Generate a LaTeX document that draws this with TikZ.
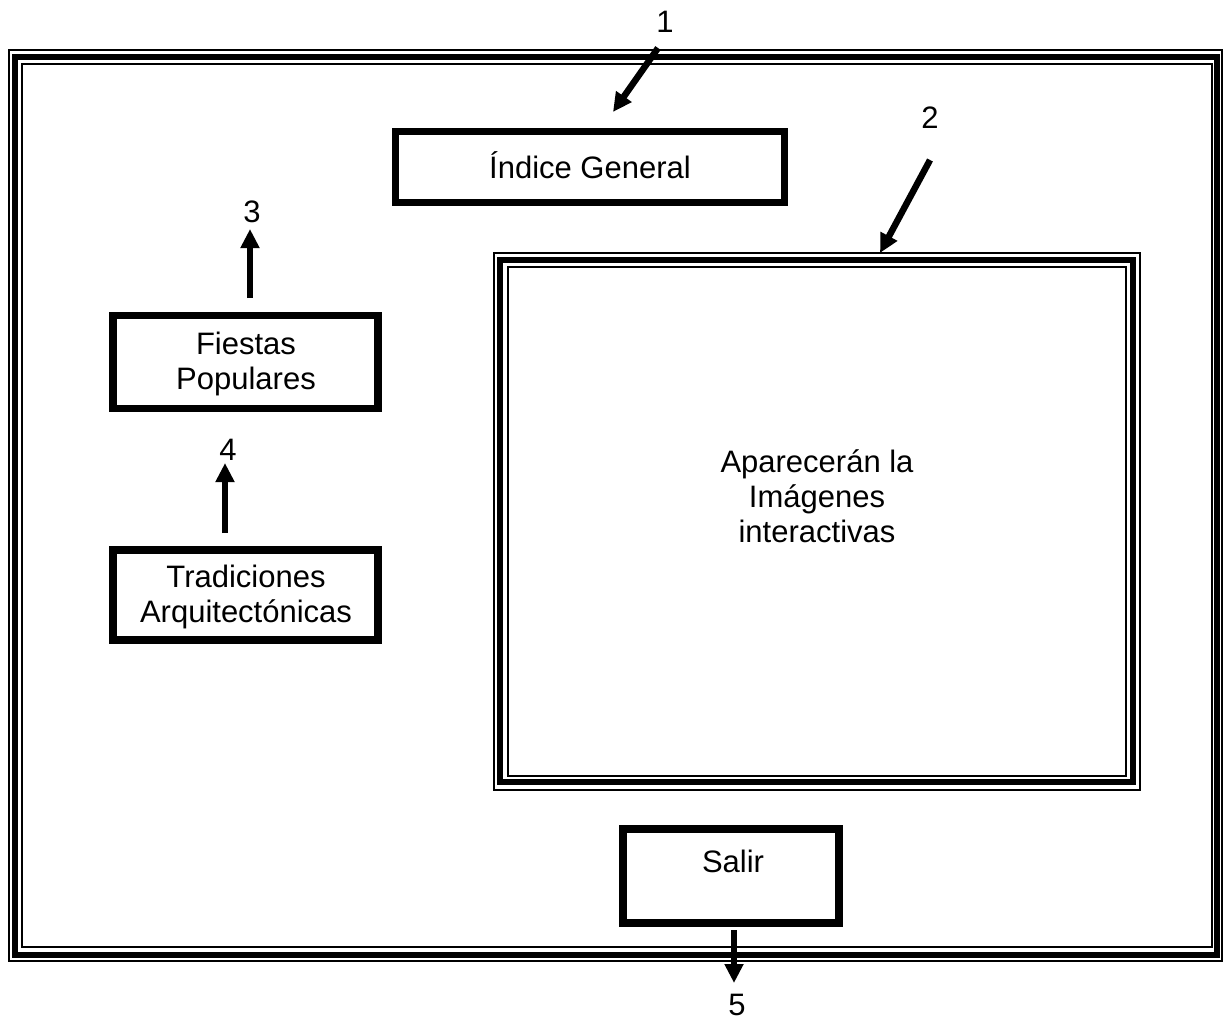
\documentclass[tikz,border=0pt]{standalone}
\usepackage{fontspec}
\setmainfont{Liberation Sans}
\usetikzlibrary{arrows.meta}
\begin{document}
\begin{tikzpicture}[x=1pt,y=-1pt,
  every node/.style={font=\fontsize{31}{35}\selectfont, align=center, inner sep=0pt},
  menubox/.style={draw, line width=7.5pt},
  thinline/.style={line width=1.6pt},
  thickline/.style={line width=6pt},
  pointer/.style={line width=6.5pt, -{Triangle[length=19pt,width=18pt]}}
]
\useasboundingbox (0,0) rectangle (1225,1023);

% page frame: thin, thick, thin
\draw[thinline] (9,50) rectangle (1222,961);
\draw[thickline] (15,57) rectangle (1217,955);
\draw[line width=2.2pt] (22,64) rectangle (1212,947);

% image area frame: thin, thick, thin
\draw[thinline] (494,253) rectangle (1140,790);
\draw[thickline] (500,260) rectangle (1133,782);
\draw[line width=2.2pt] (508,267) rectangle (1126,776);
\node (img) at (817,496) {Aparecerán la\\Imágenes\\interactivas};

% menu buttons
\draw[menubox] (395.5,131.5) rectangle (784.5,202.5);
\node (indice) at (590,165) {Índice General};
\draw[menubox] (113,315.5) rectangle (378,408.5);
\node (fiestas) at (246,364) {Fiestas\\Populares};
\draw[menubox] (113,550) rectangle (378,640);
\node (trad) at (246,597) {Tradiciones\\Arquitectónicas};
\draw[menubox] (623,829) rectangle (839,923);
\node (salir) at (733,861) {Salir};

% numbered callouts
\node (n1) at (665,22) {1};
\node (n2) at (930,118) {2};
\node (n3) at (252,212) {3};
\node (n4) at (228,450) {4};
\node (n5) at (737,1005) {5};

\coordinate (a1s) at (658,48);
\coordinate (a1e) at (613,112);
\coordinate (a2s) at (930,160);
\coordinate (a2e) at (880,253);
\coordinate (a3s) at (250,298);
\coordinate (a3e) at (250,229);
\coordinate (a4s) at (225,533);
\coordinate (a4e) at (225,463);
\coordinate (a5s) at (734,930);
\coordinate (a5e) at (734,983);

\draw[pointer] (a1s) -- (a1e);
\draw[pointer] (a2s) -- (a2e);
\draw[pointer] (a3s) -- (a3e);
\draw[pointer] (a4s) -- (a4e);
\draw[pointer] (a5s) -- (a5e);
\end{tikzpicture}
\end{document}
